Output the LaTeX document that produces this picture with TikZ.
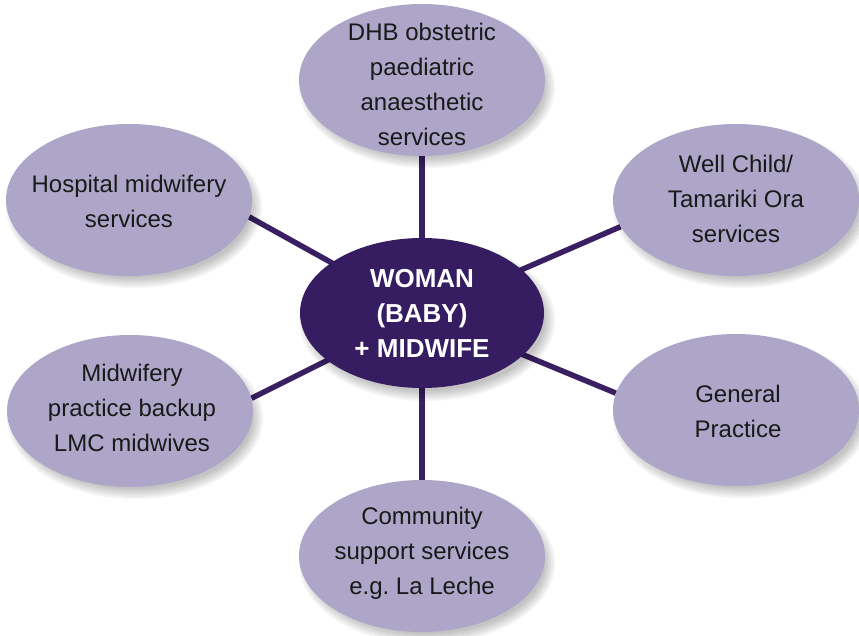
\documentclass[tikz,border=0pt]{standalone}
\usepackage{fontspec}
\setmainfont{Liberation Sans}
\usetikzlibrary{shapes.geometric,backgrounds}
\definecolor{lav}{RGB}{174,166,200}
\definecolor{deep}{RGB}{54,28,96}
\definecolor{linec}{RGB}{58,32,98}
\begin{document}
\begin{tikzpicture}[x=1pt,y=-1pt,
  outer/.style={ellipse, fill=lav, minimum width=246pt, minimum height=152pt, inner sep=0pt},
  outertext/.style={align=center, text=black!90, inner sep=0pt, font=\fontsize{24}{35}\selectfont},
  hub/.style={ellipse, fill=deep, minimum width=244pt, minimum height=150pt, inner sep=0pt},
  hubtext/.style={align=center, text=white, inner sep=0pt, font=\fontsize{26}{35}\selectfont\bfseries},
  link/.style={draw=linec, line width=5.5pt}]
\useasboundingbox (0,0) rectangle (859,636);

\node[hub]   (hub)  at (422,313) {};
\node[outer] (dhb)  at (422,80)  {};
\node[outer] (hosp) at (129,200) {};
\node[outer] (well) at (736,200) {};
\node[outer] (midw) at (130,411) {};
\node[outer] (gp)   at (736,410) {};
\node[outer] (comm) at (422,556) {};

\node[hubtext]   (hubT)  at (422,313) {WOMAN\\(BABY)\\+ MIDWIFE};
\node[outertext] (dhbT)  at (422,84)  {DHB obstetric\\paediatric\\anaesthetic\\services};
\node[outertext] (hospT) at (129,201) {Hospital midwifery\\services};
\node[outertext] (wellT) at (736,199) {Well Child/\\Tamariki Ora\\services};
\node[outertext] (midwT) at (132,408) {Midwifery\\practice backup\\LMC midwives};
\node[outertext] (gpT)   at (738,411) {General\\Practice};
\node[outertext] (commT) at (422,553) {Community\\support services\\e.g.\ La Leche};

\begin{scope}[on background layer]
  \draw[link] (hub.center) -- (dhb.center);
  \draw[link] (hub.center) -- (comm.center);
  \draw[link] (hub.center) -- (hosp.-8);
  \draw[link] (hub.center) -- (midw.6);
  \draw[link] (hub.center) -- (well.193);
  \draw[link] (hub.center) -- (gp.172);
  \foreach \n in {dhb,hosp,well,hub,midw,gp,comm}{
    \foreach \k in {0,...,5}{
      \fill[black,opacity=0.045] ([shift={(5,7)}]\n.center) ellipse [x radius={128pt-2pt*\k}, y radius={81pt-2pt*\k}];
    }
  }
\end{scope}
\end{tikzpicture}
\end{document}
